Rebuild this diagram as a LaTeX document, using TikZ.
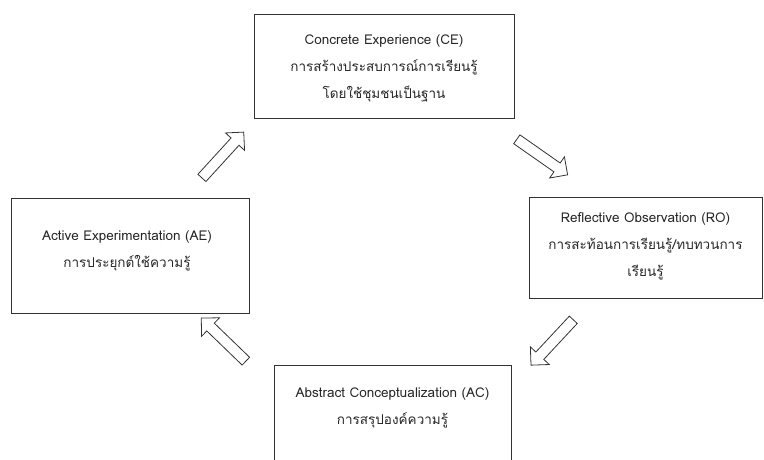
\documentclass[tikz,border=0pt]{standalone}
\usepackage{fontspec}
\setmainfont[Script=Thai]{Loma}
\usetikzlibrary{shapes.arrows}
\begin{document}
\begin{tikzpicture}[x=1pt,y=-1pt,
  box/.style={draw=black!80, line width=0.9pt, inner sep=0pt},
  txt/.style={align=center, font=\fontsize{13.5}{27}\selectfont, text=black!85, inner sep=0pt},
  blockarrow/.style={shape=single arrow, draw=black!80, line width=0.8pt, fill=white,
    inner xsep=0pt, inner ysep=5pt, single arrow head extend=7.5pt,
    minimum height=62pt, text height=0pt, text depth=0pt}]
\useasboundingbox (0,0) rectangle (764,459);
% boxes
\node[box, minimum width=260pt, minimum height=104pt] (ce) at (384,66) {};
\node[box, minimum width=233pt, minimum height=101pt] (ro) at (645.5,247.5) {};
\node[box, minimum width=238pt, minimum height=115pt] (ae) at (130,255.5) {};
\node[box, minimum width=237pt, minimum height=130pt] (ac) at (392.5,430) {};
% texts
\node[txt] (ceT) at (384,68) {Concrete Experience (CE)\\การสร้างประสบการณ์การเรียนรู้\\โดยใช้ชุมชนเป็นฐาน};
\node[txt] (roT) at (645.5,246) {Reflective Observation (RO)\\การสะท้อนการเรียนรู้/ทบทวนการ\\เรียนรู้};
\node[txt] (aeT) at (127,251) {Active Experimentation (AE)\\การประยุกต์ใช้ความรู้};
\node[txt] (acT) at (392.5,408) {Abstract Conceptualization (AC)\\การสรุปองค์ความรู้};
% block arrows
\node[blockarrow, rotate=47.6] (a1) at (221,157) {};
\node[blockarrow, rotate=-35] (a2) at (540,155.5) {};
\node[blockarrow, rotate=-133] (a3) at (554,340.5) {};
\node[blockarrow, rotate=136] (a4) at (225.5,341.5) {};
\end{tikzpicture}
\end{document}
